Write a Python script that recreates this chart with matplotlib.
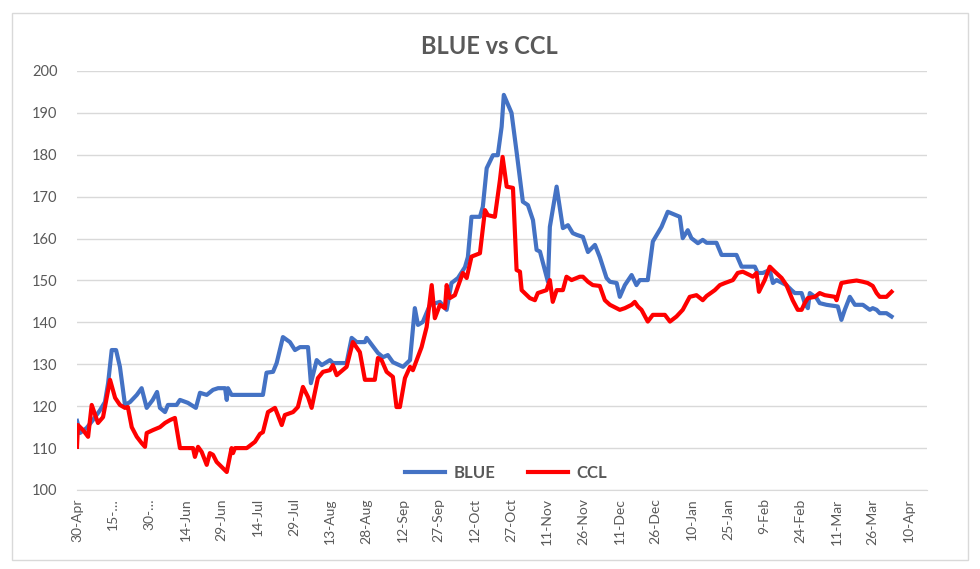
import datetime as dt
import matplotlib
matplotlib.use("Agg")
import matplotlib.pyplot as plt
from matplotlib.patches import Rectangle

# ---- data (days since 30-Apr-2020, value) ----
START = dt.date(2020, 4, 30)

blue_days = [0, 1.2, 4.0, 6.6, 9.5, 11.6, 12.9, 14.4, 16.2, 17.8, 19.9, 22.0, 24.8, 26.8, 28.9,
             31.4, 33.2, 34.4, 36.5, 37.7, 41.3, 42.7, 46.0, 49.3, 51.0, 53.8, 56.4, 58.5, 61.4,
             62.1, 62.6, 64.1, 77.1, 78.6, 81.3, 82.8, 85.4, 88.3, 90.4, 92.5, 95.8, 97.0, 99.4,
             101.5, 104.9, 106.1, 111.8, 113.9, 116.0, 119.4, 120.1, 124.8, 126.9, 128.9, 131.0,
             135.2, 138.1, 140.1, 141.4, 143.4, 146.4, 150.5, 153.3, 155.3, 158.0, 160.9, 162.1,
             163.6, 167.1, 168.3, 169.9, 172.5, 174.5, 176.1, 177.0, 180.2, 182.3, 184.9, 187.0,
             189.1, 190.6, 192.0, 195.3, 196.1, 198.9, 201.5, 203.6, 205.6, 207.2, 209.8, 211.9,
             214.8, 216.8, 219.6, 221.0, 223.8, 225.1, 227.2, 230.0, 232.0, 233.4, 236.7, 238.8,
             242.4, 245.0, 250.0, 251.2, 253.3, 254.8, 257.5, 259.5, 261.1, 265.2, 267.3, 273.5,
             275.6, 281.1, 282.3, 284.4, 287.3, 288.6, 290.1, 294.2, 296.3, 297.7, 300.5, 301.8,
             303.1, 303.9, 306.7, 308.0, 310.8, 315.5, 317.0, 318.4, 320.5, 322.6, 325.9, 328.8,
             330.0, 331.6, 332.9, 335.7, 337.8]
blue_vals = [116.5, 113.6, 114.8, 116.7, 119.0, 121.0, 125.5, 133.4, 133.4, 129.4, 120.3, 121.0,
             122.7, 124.3, 119.6, 121.5, 123.4, 119.6, 118.6, 120.3, 120.3, 121.5, 120.8, 119.6,
             123.2, 122.7, 123.9, 124.3, 124.3, 121.5, 124.3, 122.7, 122.7, 128.0, 128.2, 130.3,
             136.5, 135.3, 133.4, 134.1, 134.1, 125.5, 131.0, 129.8, 131.0, 130.3, 130.3, 136.3,
             135.3, 135.3, 136.3, 132.7, 131.7, 132.2, 130.5, 129.4, 131.0, 143.4, 139.4, 140.1,
             144.2, 144.9, 143.0, 149.4, 150.6, 153.2, 155.6, 165.2, 165.2, 167.6, 176.8, 179.9,
             179.9, 186.7, 194.3, 190.0, 180.7, 168.8, 168.0, 164.4, 157.3, 156.9, 149.7, 162.8,
             172.4, 162.5, 163.2, 161.3, 160.9, 160.4, 156.8, 158.5, 155.6, 150.6, 149.7, 149.4,
             146.1, 148.9, 151.3, 148.9, 150.1, 150.1, 159.3, 162.8, 166.4, 165.2, 160.1, 162.0,
             160.1, 158.9, 159.7, 159.0, 159.0, 156.1, 156.1, 153.3, 153.3, 151.8, 151.8, 152.5,
             149.4, 150.1, 148.9, 147.7, 147.0, 147.0, 144.6, 143.4, 147.0, 145.8, 144.6, 144.2,
             143.8, 140.6, 143.0, 146.1, 144.2, 144.2, 143.0, 143.4, 143.0, 142.2, 142.2, 141.4]

ccl_days = [0, 0.4, 2.5, 4.6, 6.1, 8.7, 10.8, 13.7, 15.8, 17.8, 19.9, 21.1, 22.7, 24.8, 26.8,
            28.2, 28.9, 31.5, 34.4, 36.5, 38.6, 40.6, 42.7, 48.1, 48.9, 50.2, 51.7, 53.8, 55.1,
            56.4, 57.9, 60.0, 62.1, 64.1, 64.7, 65.5, 70.4, 73.8, 75.9, 77.1, 79.2, 82.1, 83.3,
            84.9, 86.2, 89.6, 91.6, 93.7, 95.8, 97.3, 99.9, 102.0, 104.9, 106.1, 107.7, 111.8,
            114.4, 117.3, 119.4, 123.5, 124.8, 126.3, 128.4, 131.0, 132.5, 133.9, 136.0, 138.1,
            139.3, 142.9, 145.0, 147.1, 148.4, 150.5, 152.6, 153.3, 154.6, 156.7, 160.0, 161.6,
            163.6, 167.1, 169.2, 170.4, 173.3, 175.4, 176.5, 178.2, 180.8, 182.3, 183.7, 184.4,
            187.8, 189.9, 191.1, 194.7, 196.1, 197.3, 198.9, 201.5, 203.0, 205.1, 208.5, 209.8,
            211.9, 213.9, 216.8, 218.9, 221.0, 225.1, 227.2, 230.0, 231.3, 232.6, 234.1, 236.7,
            238.8, 243.8, 245.9, 248.6, 251.2, 254.1, 256.9, 259.5, 261.1, 264.5, 266.6, 268.7,
            272.0, 274.0, 276.1, 279.0, 280.3, 281.8, 282.8, 285.2, 287.3, 289.4, 292.2, 294.2,
            296.8, 298.9, 300.5, 301.8, 303.1, 306.0, 308.0, 310.1, 314.3, 315.0, 317.0, 319.7,
            323.3, 325.9, 327.9, 330.0, 331.6, 332.9, 335.7, 337.8]
ccl_vals = [110.3, 115.5, 114.3, 112.7, 120.3, 116.0, 117.4, 126.3, 122.0, 120.3, 119.6, 119.8,
            115.0, 112.7, 111.2, 110.3, 113.6, 114.3, 115.0, 116.0, 116.7, 117.2, 110.0, 110.0,
            107.9, 110.3, 109.1, 106.0, 108.8, 108.4, 106.7, 105.5, 104.3, 110.0, 108.8, 110.0,
            110.0, 111.5, 113.4, 113.8, 118.6, 119.6, 117.9, 115.5, 117.9, 118.6, 119.8, 124.6,
            122.2, 119.6, 126.7, 128.2, 128.6, 129.8, 127.4, 129.4, 135.3, 132.9, 126.3, 126.3,
            131.5, 131.0, 128.2, 127.0, 119.8, 119.8, 126.7, 129.4, 128.6, 134.1, 138.9, 148.9,
            141.0, 144.2, 143.4, 148.9, 145.8, 146.5, 151.8, 150.6, 155.7, 156.5, 166.8, 165.6,
            165.2, 174.0, 179.5, 172.4, 172.1, 152.5, 152.1, 147.7, 145.8, 145.3, 147.0, 147.7,
            150.1, 144.9, 147.7, 147.7, 150.9, 150.1, 150.9, 150.9, 149.7, 148.9, 148.7, 145.3,
            144.2, 143.0, 143.4, 144.2, 144.9, 143.8, 143.0, 140.2, 141.8, 141.8, 140.2, 141.4,
            143.0, 146.1, 146.5, 145.3, 146.3, 147.7, 148.9, 149.4, 150.1, 151.8, 152.1, 151.3,
            150.9, 151.8, 147.3, 150.1, 153.3, 152.1, 150.6, 148.9, 145.3, 143.0, 143.0, 144.6,
            145.8, 146.1, 147.0, 146.5, 146.1, 145.3, 149.4, 149.7, 150.0, 149.7, 149.4, 148.7,
            147.0, 146.1, 146.1, 147.3]

tick_days = list(range(0, 346, 15))
tick_labels = []
for d in tick_days:
    t = START + dt.timedelta(days=d)
    lab = f"{t.day}-{t.strftime('%b')}"
    tick_labels.append(lab)
tick_labels[1] = "15-\u2026"
tick_labels[2] = "30-\u2026"

y_ticks = list(range(100, 201, 10))

# ---- figure ----
FONT = ["Lato", "DejaVu Sans"]
plt.rcParams['font.family'] = FONT
GREY = "#595959"

fig = plt.figure(figsize=(9.8, 5.69), dpi=100)
fig.patches.append(Rectangle((12 / 980, 1 - 560 / 569), (968 - 12) / 980, (560 - 13) / 569,
                             transform=fig.transFigure, fill=False, edgecolor="#d9d9d9", lw=1))
ax = fig.add_axes([77 / 980, 1 - 490 / 569, (927 - 77) / 980, (490 - 71) / 569])

ax.plot(blue_days, blue_vals, color="#4472C4", lw=3.0, label="BLUE", solid_joinstyle="round")
ax.plot(ccl_days, ccl_vals, color="#FF0000", lw=3.0, label="CCL", solid_joinstyle="round")

ax.set_xlim(0, 352.5)
ax.set_ylim(100, 200)
ax.set_yticks(y_ticks)
ax.set_xticks(tick_days)
ax.set_xticklabels(tick_labels, rotation=90, fontsize=10, color=GREY)
ax.tick_params(axis="y", labelsize=10.5, colors=GREY, length=0, pad=14)
ax.tick_params(axis="x", length=0, pad=6)
ax.grid(axis="y", color="#d9d9d9", lw=1)
ax.set_axisbelow(True)
for s in ["top", "right", "left"]:
    ax.spines[s].set_visible(False)
ax.spines["bottom"].set_color("#d9d9d9")

fig.text(489 / 980, 1 - 47 / 569, "BLUE vs CCL", ha="center", va="center",
         fontsize=17, fontweight="bold", color=GREY)

leg = ax.legend(loc="center", bbox_to_anchor=(0.505, 0.04), ncol=2, frameon=False,
                prop={"weight": "bold", "size": 12}, handlelength=2.4, columnspacing=2.0,
                handletextpad=0.5)
for t in leg.get_texts():
    t.set_color(GREY)

fig.savefig("out.png", dpi=100)
